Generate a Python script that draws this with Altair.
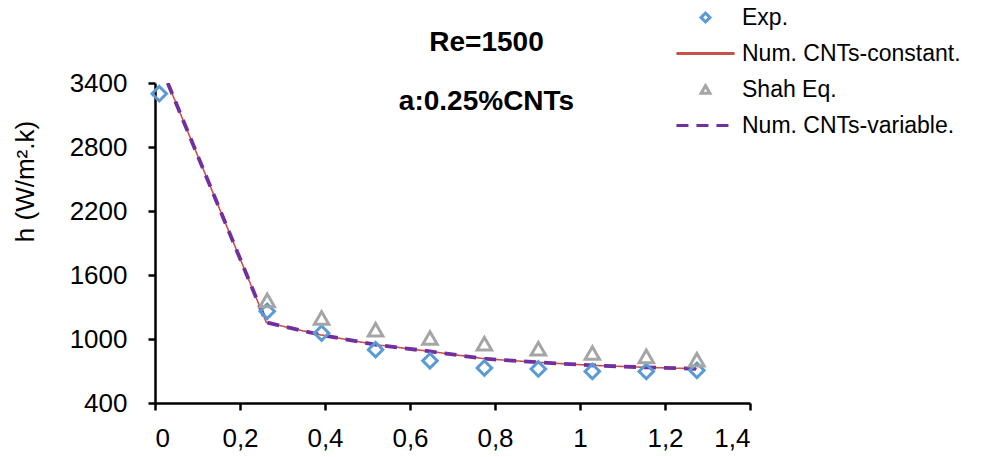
import altair as alt
import pandas as pd

# Experimental data (diamonds)
x_exp = [0.01, 0.264, 0.392, 0.519, 0.647, 0.775, 0.902, 1.029, 1.156, 1.275]
h_exp = [3300, 1260, 1055, 900, 796, 728, 719, 696, 696, 706]

# Shah equation (triangles)
x_shah = [0.264, 0.392, 0.519, 0.647, 0.775, 0.902, 1.029, 1.156, 1.275]
h_shah = [1362, 1197, 1087, 1009, 956, 909, 868, 837, 806]

# Numerical results (lines)
x_num = [0.03, 0.262, 0.392, 0.519, 0.647, 0.775, 0.902, 1.029, 1.156, 1.275]
h_num_const = [3400, 1155, 1037, 947, 884, 815, 781, 753, 734, 721]
h_num_var = [3400, 1155, 1037, 947, 884, 815, 781, 753, 734, 721]

series = ["Exp.", "Num. CNTs-constant.", "Shah Eq.", "Num. CNTs-variable."]
colors = ["#5B9BD5", "#C9514A", "#A5A5A5", "#7030A0"]
LEG_LINE = "M -6.5 0 L 6.5 0"
shapes = ["diamond", LEG_LINE, "triangle-up", LEG_LINE]
dashes = [[1, 0], [1, 0], [1, 0], [12, 8]]
line_widths = {"Num. CNTs-constant.": 1.6, "Num. CNTs-variable.": 3.8}

pts = pd.concat([
    pd.DataFrame({"x": x_exp, "h": h_exp, "series": "Exp."}),
    pd.DataFrame({"x": x_shah, "h": h_shah, "series": "Shah Eq."}),
])
lines = pd.concat([
    pd.DataFrame({"x": x_num, "h": h_num_const, "series": "Num. CNTs-constant."}),
    pd.DataFrame({"x": x_num, "h": h_num_var, "series": "Num. CNTs-variable."}),
])
lines["sw"] = lines["series"].map(line_widths)

FONT = "Liberation Sans"

xenc = alt.X("x:Q", scale=alt.Scale(domain=[0, 1.4], nice=False),
             axis=alt.Axis(values=[0, 0.2, 0.4, 0.6, 0.8, 1.0, 1.2, 1.4],
                           labelExpr="replace(format(datum.value, '~g'), '.', ',')",
                           title=None))
yenc = alt.Y("h:Q", scale=alt.Scale(domain=[400, 3400], nice=False),
             axis=alt.Axis(values=[400, 1000, 1600, 2200, 2800, 3400], format="d",
                           title="h (W/m².k)", titleX=-130, titleY=98,
                           titleBaseline="middle", titleAlign="center"))

legend = alt.Legend(
    title=None, orient="none", legendX=539, legendY=-77,
    labelFont=FONT, labelFontSize=23, labelColor="black", labelLimit=400,
    rowPadding=12, labelOffset=25, symbolSize=80, symbolStrokeWidth=3,
    symbolFillColor="white",
)

color = alt.Color("series:N", scale=alt.Scale(domain=series, range=colors), legend=legend)
shape = alt.Shape("series:N", scale=alt.Scale(domain=series, range=shapes), legend=legend)
dash = alt.StrokeDash("series:N", scale=alt.Scale(domain=series, range=dashes), legend=legend)

line_layer = alt.Chart(lines).mark_line(clip=True).encode(
    x=xenc, y=yenc, color=color, strokeDash=dash,
    strokeWidth=alt.StrokeWidth("sw:Q", scale=None),
)

point_layer = alt.Chart(pts).mark_point(filled=False, size=210, opacity=1, strokeWidth=3).encode(
    x=xenc, y=yenc, color=color, shape=shape, strokeDash=dash,
)

chart = alt.layer(line_layer, point_layer).properties(
    width=595, height=320,
    title=alt.TitleParams(
        text="Re=1500", subtitle="a:0.25%CNTs",
        font=FONT, fontSize=28, fontWeight="bold", color="black",
        subtitleFont=FONT, subtitleFontSize=28, subtitleFontWeight="bold", subtitleColor="black",
        subtitlePadding=31, anchor="middle", dx=34, offset=-110,
    ),
    autosize=alt.AutoSizeParams(type="none"),
    padding={"left": 155, "top": 83, "right": 231, "bottom": 54},
).configure_view(stroke=None).configure_axis(
    domainColor="black", domainWidth=2.5, tickColor="black", tickWidth=2.5, tickSize=7,
    grid=False, labelFont=FONT, labelFontSize=26, labelColor="black",
    titleFont=FONT, titleFontSize=26, titleFontWeight="normal", titleColor="black",
).configure_axisX(labelPadding=15).configure_axisY(labelPadding=21)

chart.save("out.html", embed_options={"renderer": "svg", "actions": False})
